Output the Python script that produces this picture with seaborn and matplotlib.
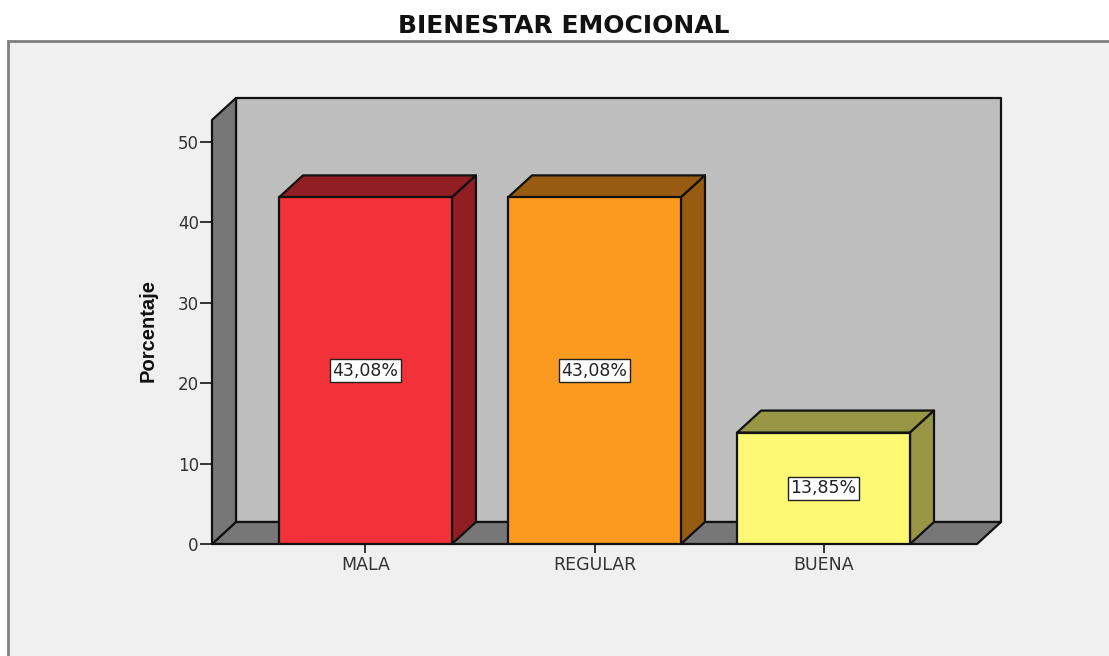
import numpy as np
import pandas as pd
import matplotlib
matplotlib.use('Agg')
import matplotlib.pyplot as plt
from matplotlib.colors import to_rgb
from matplotlib.patches import Polygon, Rectangle
import seaborn as sns

categorias = ["MALA", "REGULAR", "BUENA"]
porcentajes = [43.08, 43.08, 13.85]
etiquetas = ["43,08%", "43,08%", "13,85%"]
colores = ["#F23238", "#FB9A1E", "#FDF873"]
y_ticks = [0, 10, 20, 30, 40, 50]

W, H = 1109, 656
FONDO = "#F0F0F0"
PARED = "#BEBEBE"
LATERAL = "#777777"
DEPTH_PX = (24, 22)

sns.set_style("white")
plt.rcParams['font.family'] = ['DejaVu Sans']

fig = plt.figure(figsize=(W / 100, H / 100), dpi=100, facecolor="white")

# marco gris de fondo, se sale por la derecha y por abajo
fig.add_artist(Rectangle((8 / W, -0.1), 1.1, (H - 41) / H + 0.1, transform=fig.transFigure,
                         facecolor=FONDO, edgecolor="#808080", lw=2, zorder=-1))

ax = fig.add_axes([212 / W, (H - 544) / H, 765 / W, 424 / H])
ax.patch.set_visible(False)

df = pd.DataFrame({"categoria": categorias, "porcentaje": porcentajes})
sns.barplot(data=df, x="categoria", y="porcentaje", hue="categoria", palette=colores,
            order=categorias, legend=False, width=0.755, saturation=1,
            edgecolor="#111111", linewidth=1.6, ax=ax)

ax.set_xlim(-0.67, 2.67)
ax.set_ylim(0, 52.7)

# profundidad 3D pasada a unidades de datos
dx = DEPTH_PX[0] / (765 / (ax.get_xlim()[1] - ax.get_xlim()[0]))
dy = DEPTH_PX[1] / (424 / ax.get_ylim()[1])
x0, x1 = ax.get_xlim()
y0, y1 = ax.get_ylim()


def cara(puntos, color, z):
    ax.add_patch(Polygon(puntos, closed=True, facecolor=color, edgecolor="#111111",
                         lw=1.6, joinstyle="round", clip_on=False, zorder=z))


cara([(x0 + dx, y0 + dy), (x1 + dx, y0 + dy), (x1 + dx, y1 + dy), (x0 + dx, y1 + dy)], PARED, 0.5)
cara([(x0, y0), (x1, y0), (x1 + dx, y0 + dy), (x0 + dx, y0 + dy)], LATERAL, 0.6)
cara([(x0, y0), (x0 + dx, y0 + dy), (x0 + dx, y1 + dy), (x0, y1)], LATERAL, 0.7)

for barra, color, etiqueta in zip(ax.patches[:3], colores, etiquetas):
    barra.set_zorder(4)
    xa = barra.get_x()
    xb = xa + barra.get_width()
    h = barra.get_height()
    oscuro = tuple(np.array(to_rgb(color)) * 0.6)
    cara([(xa, h), (xb, h), (xb + dx, h + dy), (xa + dx, h + dy)], oscuro, 3)
    cara([(xb, 0), (xb + dx, dy), (xb + dx, h + dy), (xb, h)], oscuro, 3)
    ax.text((xa + xb) / 2, h / 2, etiqueta, ha="center", va="center", fontsize=12.5,
            color="#222222", zorder=5,
            bbox=dict(boxstyle="square,pad=0.16", facecolor="white", edgecolor="#222222", lw=1))

sns.despine(ax=ax, left=True, bottom=True, top=True, right=True)
ax.set_yticks(y_ticks)
ax.tick_params(axis="y", left=True, length=8.5, width=1.4, color="#333333", pad=1,
               labelsize=12, labelcolor="#333333")
ax.tick_params(axis="x", bottom=True, length=6.5, width=1.4, color="#333333", pad=2,
               labelsize=12.5, labelcolor="#333333")
ax.set_xlabel("")
ax.set_ylabel("")

fig.text(148 / W, 1 - 331 / H, "Porcentaje", rotation=90, ha="center", va="center",
         fontsize=14.5, fontweight="bold", color="#111111", family='Liberation Sans')
fig.text(564 / W, 1 - 26 / H, "BIENESTAR EMOCIONAL", ha="center", va="center",
         fontsize=18, fontweight="bold", color="#111111")

fig.savefig("out.png", dpi=100)
